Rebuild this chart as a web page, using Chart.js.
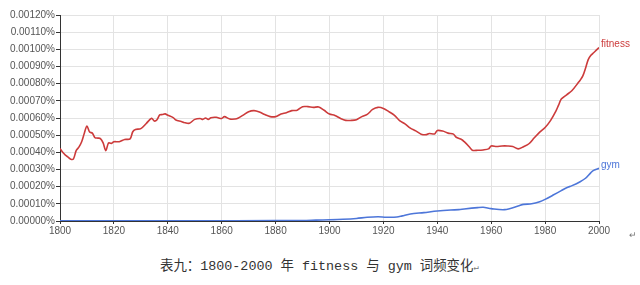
<!DOCTYPE html>
<html>
<head>
<meta charset="utf-8">
<script src="https://cdn.jsdelivr.net/npm/chart.js@4"></script>
<style>
    html, body { margin: 0; padding: 0; background: #fff; }
    #wrap { position: relative; width: 640px; height: 285px; overflow: hidden; }
    #chartBox { position: absolute; left: 0; top: 0; width: 640px; height: 245px; }
    #caption {
        position: absolute; left: 160px; top: 257px;
        font-family: "Liberation Mono", "Noto Sans CJK SC", monospace;
        font-size: 13.4px; line-height: 20px; color: #333; white-space: nowrap;
    }
    .mark { font-size: 9px; color: #777; }
    #mark2 { position: absolute; left: 629px; top: 230px; }
</style>
</head>
<body>
<div id="wrap">
    <div id="chartBox"><canvas id="ngramChart"></canvas></div>
    <div id="caption">表九：1800-2000 年 fitness 与 gym 词频变化<span class="mark">↵</span></div>
    <div id="mark2" class="mark">↵</div>
</div>
<script>
// values are in units of 0.0001 %
const fitnessYears = [1800, 1801, 1802, 1803, 1804, 1805, 1806, 1807, 1808, 1809,
    1810, 1811, 1812, 1813, 1814, 1815, 1816, 1817, 1818, 1819,
    1820, 1822, 1824, 1826, 1827, 1828, 1830, 1832, 1834, 1835,
    1836, 1837, 1838, 1839, 1840, 1842, 1843, 1845, 1846, 1848,
    1850, 1852, 1853, 1854, 1855, 1856, 1858, 1860, 1861, 1863,
    1865, 1866, 1868, 1870, 1872, 1874, 1876, 1878, 1880, 1882,
    1884, 1886, 1888, 1890, 1892, 1894, 1896, 1898, 1900, 1902,
    1904, 1906, 1908, 1910, 1912, 1914, 1916, 1918, 1920, 1922,
    1924, 1926, 1928, 1930, 1932, 1934, 1936, 1937, 1939, 1940,
    1942, 1944, 1946, 1947, 1949, 1950, 1952, 1953, 1955, 1957,
    1959, 1960, 1962, 1964, 1966, 1968, 1970, 1972, 1974, 1976,
    1978, 1980, 1982, 1984, 1985, 1986, 1988, 1990, 1992, 1993,
    1994, 1995, 1996, 1997, 1998, 1999, 2000];
const fitnessValues = [4.23, 4.0, 3.84, 3.72, 3.6, 3.62, 4.1, 4.3, 4.6, 5.1,
    5.53, 5.18, 5.12, 4.85, 4.83, 4.8, 4.55, 4.1, 4.55, 4.52,
    4.62, 4.62, 4.75, 4.78, 5.2, 5.33, 5.38, 5.68, 5.98, 5.82,
    5.9, 6.18, 6.2, 6.24, 6.16, 6.02, 5.88, 5.8, 5.74, 5.69,
    5.92, 5.97, 5.92, 6.0, 5.92, 6.02, 6.04, 5.97, 6.08, 5.94,
    5.94, 5.98, 6.17, 6.37, 6.43, 6.35, 6.2, 6.08, 6.08, 6.23,
    6.31, 6.43, 6.45, 6.66, 6.66, 6.62, 6.64, 6.45, 6.23, 6.15,
    5.98, 5.86, 5.86, 5.9, 6.08, 6.21, 6.5, 6.62, 6.56, 6.37,
    6.17, 5.85, 5.66, 5.41, 5.25, 5.06, 5.03, 5.1, 5.07, 5.27,
    5.24, 5.12, 5.06, 4.88, 4.75, 4.62, 4.3, 4.12, 4.12, 4.14,
    4.2, 4.37, 4.34, 4.37, 4.37, 4.34, 4.2, 4.33, 4.5, 4.85,
    5.18, 5.45, 5.85, 6.4, 6.75, 7.1, 7.35, 7.6, 8.0, 8.2,
    8.45, 8.9, 9.4, 9.65, 9.8, 9.95, 10.1];

const gymYears = [1800, 1850, 1880, 1890, 1895, 1900, 1905, 1910, 1914, 1918,
    1921, 1925, 1927, 1930, 1935, 1940, 1945, 1948, 1950, 1955,
    1957, 1960, 1965, 1970, 1972, 1975, 1978, 1980, 1983, 1986,
    1988, 1990, 1993, 1995, 1997, 1998, 2000];
const gymValues = [0.01, 0.01, 0.02, 0.03, 0.05, 0.07, 0.1, 0.15, 0.22, 0.25,
    0.22, 0.23, 0.3, 0.41, 0.49, 0.58, 0.64, 0.66, 0.7, 0.78,
    0.8, 0.72, 0.66, 0.87, 0.97, 1.0, 1.12, 1.26, 1.51, 1.77,
    1.94, 2.06, 2.29, 2.49, 2.82, 2.95, 3.07];

const seriesNames = ['fitness', 'gym'];
const seriesColors = ['#cc3b3b', '#4d76d9'];

function toPoints(years, values) {
    return years.map((yr, i) => ({ x: yr, y: values[i] }));
}

// writes the series name next to the last point of each line
const endLabels = {
    id: 'endLabels',
    afterDatasetsDraw(chart) {
        const ctx = chart.ctx;
        ctx.save();
        ctx.font = '10px "Liberation Sans", Arial, sans-serif';
        ctx.textBaseline = 'middle';
        chart.data.datasets.forEach((ds, i) => {
            const meta = chart.getDatasetMeta(i);
            const last = meta.data[meta.data.length - 1];
            ctx.fillStyle = ds.borderColor;
            ctx.fillText(ds.label, last.x + 2, last.y - 3);
        });
        ctx.restore();
    }
};

new Chart(document.getElementById('ngramChart'), {
    type: 'line',
    data: {
        datasets: [
            {
                label: seriesNames[0],
                data: toPoints(fitnessYears, fitnessValues),
                borderColor: seriesColors[0],
                borderWidth: 1.6,
                pointRadius: 0,
                tension: 0.3
            },
            {
                label: seriesNames[1],
                data: toPoints(gymYears, gymValues),
                borderColor: seriesColors[1],
                borderWidth: 1.6,
                pointRadius: 0,
                tension: 0.3
            }
        ]
    },
    options: {
        responsive: true,
        maintainAspectRatio: false,
        animation: false,
        layout: { padding: { top: 15, right: 41, left: 0, bottom: 0 } },
        plugins: {
            legend: { display: false },
            tooltip: { enabled: false }
        },
        scales: {
            x: {
                type: 'linear',
                min: 1800,
                max: 2000,
                afterFit: function(scale) { scale.height = 24; },
                ticks: {
                    stepSize: 20,
                    padding: 1,
                    color: '#555',
                    font: { family: '"Liberation Sans", Arial, sans-serif', size: 10 },
                    callback: function(value) { return String(value); }
                },
                grid: { color: '#e3e3e3', tickLength: 3, tickColor: '#333' },
                border: { color: '#333', width: 1 }
            },
            y: {
                min: 0,
                max: 12,
                afterFit: function(scale) { scale.width = 60; },
                ticks: {
                    stepSize: 1,
                    padding: 1,
                    color: '#555',
                    font: { family: '"Liberation Sans", Arial, sans-serif', size: 10 },
                    callback: function(value) { return (value / 10000).toFixed(5) + '%'; }
                },
                grid: { color: '#e3e3e3', tickLength: 4, tickColor: '#333' },
                border: { color: '#333', width: 1 }
            }
        }
    },
    plugins: [endLabels]
});
</script>
</body>
</html>
